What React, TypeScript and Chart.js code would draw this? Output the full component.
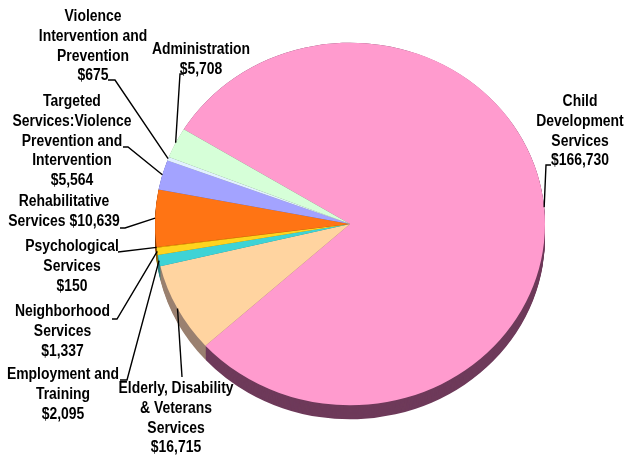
import React, { useEffect, useRef } from 'react';
import { Chart, registerables } from 'chart.js';

Chart.register(...registerables);

const categories: string[] = [
  'Child Development Services',
  'Elderly, Disability & Veterans Services',
  'Employment and Training',
  'Neighborhood Services',
  'Psychological Services',
  'Rehabilitative Services',
  'Targeted Services:Violence Prevention and Intervention',
  'Violence Intervention and Prevention',
  'Administration',
];

const values: number[] = [166730, 16715, 2095, 1337, 150, 10639, 5564, 675, 5708];

// label text lines; {v} is replaced by the formatted value
const labelLines: string[][] = [
  ['Child', 'Development', 'Services', '{v}'],
  ['Elderly, Disability', '& Veterans', 'Services', '{v}'],
  ['Employment and', 'Training', '{v}'],
  ['Neighborhood', 'Services', '{v}'],
  ['Psychological', 'Services', '{v}'],
  ['Rehabilitative', 'Services {v}'],
  ['Targeted', 'Services:Violence', 'Prevention and', 'Intervention', '{v}'],
  ['Violence', 'Intervention and', 'Prevention', '{v}'],
  ['Administration', '{v}'],
];

const sliceColors = ['#FF9BCE', '#FFD4A0', '#3ED3D6', '#FFD41E', '#FFB000', '#FF7414', '#A3A3FF', '#E2F1FF', '#D6FFD8'];
const sideColors = ['#6E3A5A', '#9A8070', '#2A7F80', '#8A7410', '#8A6000', '#8A3E0A', '#55558A', '#7A8490', '#6E8A70'];

// label placement (text centre x, first line centre y, leader start, optional elbow)
const labelLayout = [
  { x: 580, y: 102, ax: 551, ay: 165, bx: 546, by: 165 },
  { x: 176, y: 389, ax: 182, ay: 377 },
  { x: 63, y: 375, ax: 120, ay: 380, bx: 127, by: 380 },
  { x: 62.5, y: 312, ax: 112, ay: 319, bx: 117, by: 319 },
  { x: 72, y: 247, ax: 118, ay: 252 },
  { x: 64, y: 202, ax: 120, ay: 228, bx: 125, by: 228 },
  { x: 72, y: 102, ax: 123, ay: 147, bx: 128, by: 147 },
  { x: 93, y: 17, ax: 108, ay: 80, bx: 115, by: 80 },
  { x: 201, y: 50, ax: 183, ay: 74, bx: 180, by: 74 },
];

const SQUASH = 0.93;
const DEPTH = 14;
const LINE_H = 19.6;
const TEXT_SX = 0.87;
const FONT = 'bold 16px "Liberation Sans", Arial, sans-serif';

const fmt = (v: number) => '$' + v.toLocaleString('en-US');

const ellipsePlugin = {
  id: 'ellipse3d',
  beforeDatasetsDraw(chart: any) {
    const ctx = chart.ctx as CanvasRenderingContext2D;
    const meta = chart.getDatasetMeta(0);
    if (!meta.data.length) return;
    const cx = meta.data[0].x;
    const cy = meta.data[0].y;
    ctx.save();
    ctx.translate(cx, cy);
    ctx.scale(1, SQUASH);
    ctx.translate(-cx, -cy);
    // side extrusion
    for (let d = DEPTH / SQUASH; d > 0; d -= 1) {
      meta.data.forEach((arc: any, i: number) => {
        const p = arc.getProps(['x', 'y', 'startAngle', 'endAngle', 'outerRadius'], true);
        ctx.beginPath();
        ctx.moveTo(p.x, p.y + d);
        ctx.arc(p.x, p.y + d, p.outerRadius, p.startAngle, p.endAngle);
        ctx.closePath();
        ctx.fillStyle = sideColors[i];
        ctx.fill();
      });
    }
  },
  afterDatasetsDraw(chart: any) {
    chart.ctx.restore();
  },
  afterDraw(chart: any) {
    const ctx = chart.ctx as CanvasRenderingContext2D;
    const meta = chart.getDatasetMeta(0);
    ctx.save();
    ctx.strokeStyle = '#000';
    ctx.lineWidth = 1.4;
    ctx.fillStyle = '#000';
    ctx.font = FONT;
    ctx.textAlign = 'center';
    ctx.textBaseline = 'middle';
    meta.data.forEach((arc: any, i: number) => {
      const p = arc.getProps(['x', 'y', 'startAngle', 'endAngle', 'outerRadius'], true);
      const mid = (p.startAngle + p.endAngle) / 2;
      const ex = p.x + Math.cos(mid) * p.outerRadius;
      const ey = p.y + Math.sin(mid) * p.outerRadius * SQUASH;
      const L: any = labelLayout[i];
      ctx.beginPath();
      ctx.moveTo(L.ax, L.ay);
      if (L.bx !== undefined) ctx.lineTo(L.bx, L.by);
      ctx.lineTo(ex, ey);
      ctx.stroke();
      labelLines[i].forEach((ln, j) => {
        ctx.save();
        ctx.translate(L.x, L.y + j * LINE_H);
        ctx.scale(TEXT_SX, 1);
        ctx.fillText(ln.replace('{v}', fmt(values[i])), 0, 0);
        ctx.restore();
      });
    });
    ctx.restore();
  },
};

export default function App() {
  const ref = useRef<HTMLCanvasElement>(null);
  useEffect(() => {
    if (!ref.current) return;
    const chart = new Chart(ref.current, {
      type: 'pie',
      data: {
        labels: categories,
        datasets: [
          {
            data: values,
            backgroundColor: sliceColors,
            borderWidth: 0,
            radius: 195,
          } as any,
        ],
      },
      options: {
        animation: false,
        responsive: false,
        rotation: 301.5,
        layout: { padding: { left: 155, right: 79, top: 29, bottom: 37 } },
        plugins: { legend: { display: false }, tooltip: { enabled: false } },
        events: [],
      },
      plugins: [ellipsePlugin],
    });
    return () => chart.destroy();
  }, []);
  return (
    <div style={{ position: 'absolute', left: 0, top: 0, width: 624, height: 456, background: '#fff' }}>
      <canvas ref={ref} width={624} height={456} style={{ width: 624, height: 456 }} />
    </div>
  );
}
